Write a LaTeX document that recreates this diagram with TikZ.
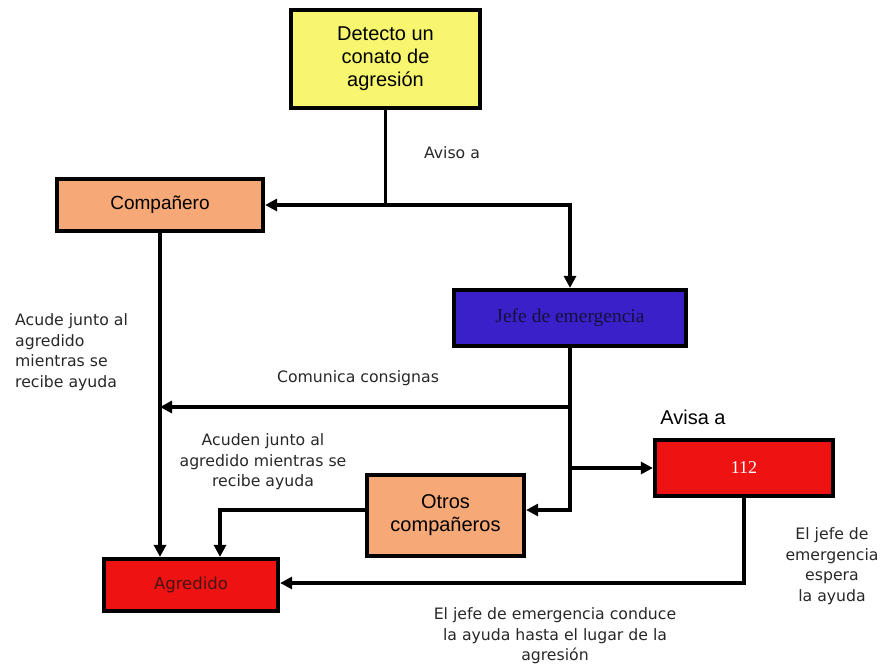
\documentclass[tikz,border=0pt]{standalone}
\usepackage{fontspec}
\setmainfont{Liberation Sans}
\newfontfamily\lbl{DejaVu Sans}
\newfontfamily\srf{Liberation Serif}
\usetikzlibrary{arrows.meta}
\definecolor{cyel}{RGB}{248,246,110}
\definecolor{cora}{RGB}{246,168,118}
\definecolor{cblu}{RGB}{58,32,200}
\definecolor{cred}{RGB}{238,18,18}
\definecolor{ctxt}{RGB}{40,40,40}
\definecolor{cjefe}{RGB}{20,16,60}
\definecolor{cagr}{RGB}{70,20,20}
\begin{document}
\begin{tikzpicture}[x=1pt,y=-1pt,
  box/.style={draw=black, line width=4.2pt, rectangle, inner sep=0pt, align=center},
  conn/.style={line width=3.6pt, -{Triangle[length=12pt,width=12pt]}},
  lab/.style={font=\lbl\fontsize{15.7}{20.5}\selectfont, text=ctxt, align=center, inner sep=0pt}]
\useasboundingbox (0,0) rectangle (882,669);
\fill[white] (0,0) rectangle (882,669);

% boxes
\node[box, fill=cyel, minimum width=189pt, minimum height=98pt, font=\fontsize{20}{23}\selectfont] (det) at (385.5,59) {Detecto un\\conato de\\agresión};
\node[box, fill=cora, minimum width=206pt, minimum height=52pt, font=\fontsize{19}{22}\selectfont] (comp) at (160,205) {Compañero};
\node[box, fill=cblu, minimum width=232pt, minimum height=56pt, font=\srf\fontsize{19.5}{22}\selectfont, text=cjefe] (jefe) at (570,318) {Jefe de emergencia};
\node[box, fill=cora, minimum width=157pt, minimum height=81pt, font=\fontsize{20}{23}\selectfont] (otros) at (445.5,515.5) {Otros\\compañeros};
\node[box, fill=cred, minimum width=178pt, minimum height=56pt, font=\srf\fontsize{18}{20}\selectfont, text=white] (n112) at (744,468) {112};
\node[box, fill=cred, minimum width=174pt, minimum height=52pt, font=\lbl\fontsize{16.5}{20}\selectfont, text=cagr] (agr) at (191,585) {Agredido};

% helper coordinates
\coordinate (hc) at (0,407);
\coordinate (ho) at (0,510);
\coordinate (ha) at (0,583);
\coordinate (xa) at (220,0);
\coordinate (dj) at (det.south |- comp.east);

% connectors
\draw[conn] (det.south) -- (dj) -- (comp.east);
\draw[conn] (dj) -| (jefe.north);
\draw[conn] (jefe.south) |- (otros.east |- ho);
\draw[conn] (jefe.south |- hc) -- (comp.south |- hc);
\draw[conn] (jefe.south |- n112.west) -- (n112.west);
\draw[conn] (comp.south) -- (comp.south |- agr.north);
\draw[conn] (otros.west |- ho) -| (xa |- agr.north);
\draw[conn] (n112.south) |- (agr.east |- ha);

% labels
\node[lab] (l1) at (452,153) {Aviso a};
\node[lab, align=left, anchor=west] (l2) at (15,352) {Acude junto al\\agredido\\mientras se\\recibe ayuda};
\node[lab] (l3) at (358,378) {Comunica consignas};
\node[lab] (l4) at (263,462) {Acuden junto al\\agredido mientras se\\recibe ayuda};
\node[font=\fontsize{20}{23}\selectfont, inner sep=0pt] (l5) at (693,417) {Avisa a};
\node[lab] (l6) at (832,566) {El jefe de\\emergencia\\espera\\la ayuda};
\node[lab] (l7) at (555,636) {El jefe de emergencia conduce\\la ayuda hasta el lugar de la\\agresión};
\end{tikzpicture}
\end{document}
